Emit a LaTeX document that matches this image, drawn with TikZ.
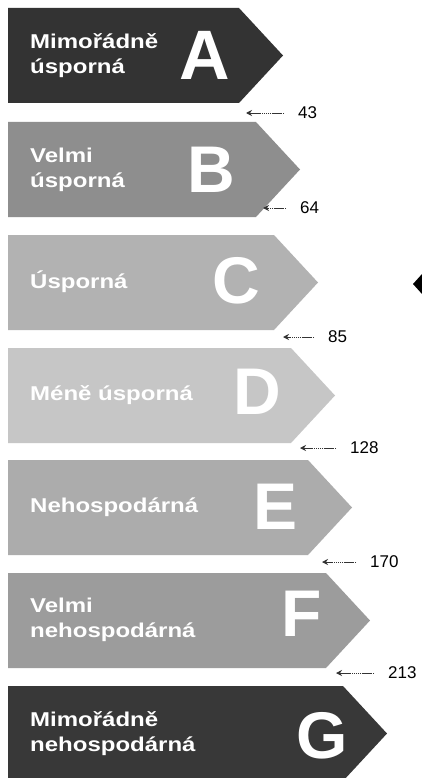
\documentclass[tikz,border=0pt]{standalone}
\usepackage{fontspec}
\setmainfont{Liberation Sans}
\newfontfamily\bandfont[FakeStretch=1.2]{Liberation Sans}
\usetikzlibrary{arrows.meta}
\definecolor{bandA}{HTML}{333333}
\definecolor{bandB}{HTML}{8E8E8E}
\definecolor{bandC}{HTML}{B2B2B2}
\definecolor{bandD}{HTML}{C6C6C6}
\definecolor{bandE}{HTML}{ACACAC}
\definecolor{bandF}{HTML}{9C9C9C}
\definecolor{bandG}{HTML}{383838}
\tikzset{
  classletter/.style={text=white, inner sep=0pt, font=\bfseries\fontsize{66}{66}\selectfont},
  bandlabel/.style={text=white, anchor=west, align=left, inner sep=0pt, font=\bandfont\bfseries\fontsize{20}{25}\selectfont},
  limitval/.style={anchor=west, inner sep=0pt, font=\fontsize{17}{17}\selectfont},
  limit/.style={-{Stealth[length=6pt,width=6pt]}, line width=0.9pt, black!80, dash pattern=on 1.5pt off 0.6pt, shorten <=14pt}
}
\begin{document}
\begin{tikzpicture}[x=1pt,y=-1pt]
    \useasboundingbox (0,0) rectangle (422,778);
    \fill [white] (0,0) rectangle (422,778);
    % bands
    \fill [bandA] (8,8) -- (239,8) -- (283,55.5) -- (239,103) -- (8,103) -- cycle;
    \fill [bandB] (8,122) -- (256,122) -- (300,169.5) -- (256,217) -- (8,217) -- cycle;
    \fill [bandC] (8,235) -- (274,235) -- (318,282.5) -- (274,330) -- (8,330) -- cycle;
    \fill [bandD] (8,348) -- (291,348) -- (335,395.5) -- (291,443) -- (8,443) -- cycle;
    \fill [bandE] (8,460) -- (308,460) -- (352,507.5) -- (308,555) -- (8,555) -- cycle;
    \fill [bandF] (8,573) -- (326,573) -- (370,620.5) -- (326,668) -- (8,668) -- cycle;
    \fill [bandG] (8,686) -- (343,686) -- (387,733.5) -- (343,781) -- (8,781) -- cycle;
    % class letters
    \node [classletter, font=\bfseries\fontsize{70}{70}\selectfont] (clA) at (205,55) {A};
    \node [classletter] (clB) at (211,170) {B};
    \node [classletter] (clC) at (236,281) {C};
    \node [classletter] (clD) at (257,392) {D};
    \node [classletter] (clE) at (276,507) {E};
    \node [classletter] (clF) at (302,614) {F};
    \node [classletter] (clG) at (322,736) {G};
    % band labels
    \node [bandlabel] (lbA) at (30,56) {Mimořádně\\úsporná};
    \node [bandlabel] (lbB) at (30,170) {Velmi\\úsporná};
    \node [bandlabel] (lbC) at (30,282) {Úsporná};
    \node [bandlabel] (lbD) at (30,395) {Méně úsporná};
    \node [bandlabel] (lbE) at (30,507) {Nehospodárná};
    \node [bandlabel] (lbF) at (30,620) {Velmi\\nehospodárná};
    \node [bandlabel] (lbG) at (30,734) {Mimořádně\\nehospodárná};
    % limits
    \node [limitval] (v43) at (298,113) {43};
    \node [limitval] (v64) at (300,208) {64};
    \node [limitval] (v85) at (328,337) {85};
    \node [limitval] (v128) at (350,448) {128};
    \node [limitval] (v170) at (370,562) {170};
    \node [limitval] (v213) at (388,673) {213};
    \coordinate (t43) at (246,113);
    \coordinate (t64) at (263,208);
    \coordinate (t85) at (283,337);
    \coordinate (t128) at (300,448);
    \coordinate (t170) at (322,562);
    \coordinate (t213) at (336,673);
    \draw [limit] (v43.west) -- (t43);
    \draw [limit] (v64.west) -- (t64);
    \draw [limit] (v85.west) -- (t85);
    \draw [limit] (v128.west) -- (t128);
    \draw [limit] (v170.west) -- (t170);
    \draw [limit] (v213.west) -- (t213);
    % pointer at the edge
    \fill [black] (413,284) -- (422,274) -- (422,294) -- cycle;
\end{tikzpicture}
\end{document}
